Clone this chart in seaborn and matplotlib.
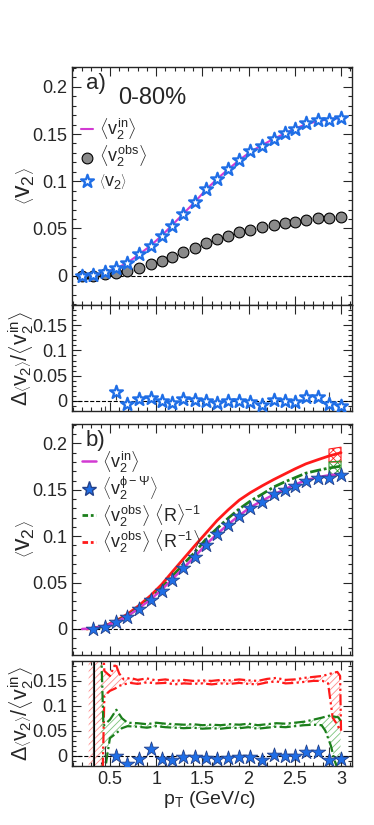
import numpy as np
import pandas as pd
import seaborn as sns
import matplotlib.pyplot as plt
from matplotlib.ticker import MultipleLocator, FuncFormatter
from matplotlib.lines import Line2D

# pT bin centres
pt = [0.2, 0.32, 0.45, 0.57, 0.69, 0.81, 0.94, 1.06, 1.17, 1.29, 1.42, 1.54,
      1.66, 1.78, 1.9, 2.02, 2.15, 2.27, 2.39, 2.5, 2.62, 2.75, 2.87, 3.0]

# panel a)
v2_in = [0.0, 0.0008, 0.0033, 0.0077, 0.0138, 0.0222, 0.0318, 0.0424, 0.0532, 0.0652, 0.0782, 0.0912,
         0.1025, 0.1128, 0.1225, 0.1312, 0.1385, 0.1448, 0.1505, 0.1556, 0.1603, 0.1637, 0.1657, 0.1672]
v2_obs = [0.0, 0.0, 0.0014, 0.0032, 0.0053, 0.0085, 0.0123, 0.0159, 0.0201, 0.0247, 0.029, 0.0342,
          0.0385, 0.0423, 0.0459, 0.0483, 0.0511, 0.0536, 0.0554, 0.0571, 0.0589, 0.0607, 0.0614, 0.0624]
v2_a = [0.0, 0.0007, 0.0035, 0.0078, 0.014, 0.0226, 0.0314, 0.042, 0.0529, 0.0653, 0.0783, 0.0917,
        0.1023, 0.1129, 0.1224, 0.1319, 0.1376, 0.1446, 0.1506, 0.1552, 0.1612, 0.1647, 0.1647, 0.1672]

# ratio a) (from pt = 0.45)
ratio_a = [-0.04, 0.0167, -0.0067, 0.004, 0.0067, 0.0007, -0.0047, 0.0033, 0.0027, 0.0007, -0.004,
           0.0, 0.0007, -0.002, -0.0087, 0.002, 0.0007, -0.0027, 0.0087, 0.0087, -0.0053, -0.01]
ratio_a_err = [0.029, 0.015, 0.003, 0.002, 0.002, 0.002, 0.002, 0.002, 0.002, 0.002, 0.002,
               0.002, 0.002, 0.002, 0.003, 0.003, 0.003, 0.003, 0.004, 0.005, 0.022, 0.012]

# panel b) (from pt = 0.32)
v2_b = [0.0, 0.0025, 0.0079, 0.0132, 0.0214, 0.031, 0.041, 0.053, 0.066, 0.0775, 0.09, 0.102,
        0.112, 0.122, 0.130, 0.137, 0.145, 0.150, 0.154, 0.160, 0.1625, 0.163, 0.166]
pt_red = [0.25] + pt[1:]
v2_R_inv = [0.0, 0.001, 0.0035, 0.009, 0.016, 0.025, 0.036, 0.048, 0.061, 0.075, 0.09, 0.1035,
            0.117, 0.1285, 0.139, 0.147, 0.1545, 0.161, 0.167, 0.1725, 0.178, 0.1825, 0.1865, 0.19]
v2_R_mean = [0.0003, 0.003, 0.0085, 0.0142, 0.0228, 0.0332, 0.0442, 0.0562, 0.0695, 0.0828, 0.097, 0.1085,
             0.1195, 0.1295, 0.138, 0.1455, 0.153, 0.1585, 0.163, 0.168, 0.171, 0.1735, 0.1755]
box_x = [2.87, 3.0]
red_box_lo = [0.180, 0.180]
red_box_hi = [0.194, 0.196]
green_box_lo = [0.165, 0.166]
green_box_hi = [0.180, 0.181]

# ratio b) (from pt = 0.32)
ratio_b = [-0.1, -0.04, 0.0, -0.0176, -0.006, 0.014, -0.006, -0.0095, -0.003, -0.003, -0.004, -0.006,
           -0.004, -0.003, -0.003, -0.0095, 0.002, 0.0, -0.001, 0.0074, 0.0068, -0.0095, -0.0074]
ratio_b_err = [0.4, 0.06, 0.003, 0.003, 0.003, 0.003, 0.003, 0.003, 0.003, 0.003, 0.003, 0.003,
               0.003, 0.003, 0.003, 0.003, 0.003, 0.003, 0.003, 0.003, 0.003, 0.027, 0.005]
rb_x = [0.27, 0.42, 0.44, 0.5, 0.56, 0.6, 0.65, 0.72, 0.8, 0.9, 1.0, 1.1, 1.2, 1.3, 1.4, 1.5, 1.6, 1.7,
        1.8, 1.9, 2.0, 2.1, 2.2, 2.3, 2.4, 2.5, 2.6, 2.7, 2.8, 2.86, 2.91, 2.96, 2.99, 3.0]
rb_hi = [0.25, 0.25, 0.17, 0.16, 0.185, 0.165, 0.153, 0.156, 0.152, 0.155, 0.151, 0.153, 0.150, 0.152,
         0.150, 0.151, 0.150, 0.152, 0.151, 0.153, 0.151, 0.150, 0.154, 0.156, 0.152, 0.153, 0.156,
         0.158, 0.160, 0.163, 0.166, 0.168, 0.160, 0.05]
rb_lo = [-0.05, -0.05, 0.12, 0.13, 0.135, 0.14, 0.143, 0.146, 0.144, 0.147, 0.145, 0.146, 0.143, 0.145,
         0.144, 0.145, 0.143, 0.145, 0.144, 0.146, 0.144, 0.143, 0.147, 0.149, 0.145, 0.146, 0.148,
         0.150, 0.150, 0.145, 0.076, 0.062, 0.05, 0.05]
gb_x = [0.40, 0.43, 0.5, 0.57, 0.63, 0.69, 0.8, 0.9, 1.0, 1.1, 1.2, 1.3, 1.4, 1.5, 1.6, 1.7, 1.8, 1.9,
        2.0, 2.1, 2.2, 2.3, 2.4, 2.5, 2.6, 2.7, 2.79, 2.83, 2.89, 2.93, 2.97, 2.995]
gb_hi = [0.25, 0.06, 0.072, 0.092, 0.075, 0.066, 0.065, 0.063, 0.066, 0.064, 0.063, 0.062, 0.063,
         0.061, 0.062, 0.061, 0.063, 0.062, 0.064, 0.061, 0.063, 0.065, 0.064, 0.066, 0.068, 0.072,
         0.076, 0.078, 0.081, 0.078, 0.077, 0.07]
gb_lo = [-0.05, -0.05, 0.035, 0.045, 0.055, 0.059, 0.058, 0.056, 0.059, 0.057, 0.056, 0.055, 0.056,
         0.054, 0.055, 0.054, 0.056, 0.055, 0.057, 0.054, 0.056, 0.058, 0.057, 0.059, 0.061, 0.062,
         0.061, 0.05, 0.02, -0.01, -0.03, -0.03]

sns.set_style('ticks')
plt.rcParams['font.family'] = ['Liberation Sans', 'DejaVu Sans']
plt.rcParams['mathtext.fontset'] = 'custom'
plt.rcParams['mathtext.rm'] = 'Liberation Sans'
plt.rcParams['mathtext.it'] = 'Liberation Sans'
plt.rcParams['hatch.linewidth'] = 0.6

MAG = '#d23ad2'
BLUE = '#1f6ee6'
GREEN = '#1b7f1b'
RED = '#ff1a1a'

fig = plt.figure(figsize=(3.74, 8.25), dpi=100)
L, W = 0.1925, 0.749
ax_a = fig.add_axes([L, 0.6303, W, 0.2885])
ax_ra = fig.add_axes([L, 0.5018, W, 0.1285])
ax_b = fig.add_axes([L, 0.2061, W, 0.2800])
ax_rb = fig.add_axes([L, 0.0715, W, 0.1273])

fmt = FuncFormatter(lambda v, p: '%g' % round(v, 3))
for ax in (ax_a, ax_ra, ax_b, ax_rb):
    ax.axhline(0, ls='--', color='k', lw=0.8, zorder=1)
    ax.xaxis.set_major_locator(MultipleLocator(0.5))
    ax.xaxis.set_minor_locator(MultipleLocator(0.1))
    ax.yaxis.set_major_locator(MultipleLocator(0.05))
    ax.yaxis.set_minor_locator(MultipleLocator(0.01))
    ax.yaxis.set_major_formatter(fmt)
    ax.xaxis.set_major_formatter(fmt)
    ax.tick_params(which='both', direction='in', top=True, right=True, labelsize=13, width=0.8)
    ax.tick_params(which='major', length=6.5)
    ax.tick_params(which='minor', length=3.2)
    for s in ax.spines.values():
        s.set_linewidth(1.0)
    if ax is not ax_rb:
        ax.tick_params(labelbottom=False)

V_IN = r'$\left\langle v_2^{in}\right\rangle$'
V_OBS = r'$\left\langle v_2^{obs}\right\rangle$'
V_2 = r'$\left\langle v_2\right\rangle$'
RATIO = r'$\Delta\left\langle v_2\right\rangle/\left\langle v_2^{in}\right\rangle$'

# ---- panel a
sns.lineplot(x=pt, y=v2_in, ax=ax_a, color=MAG, lw=1.5, label=V_IN, zorder=3)
sns.scatterplot(x=pt, y=v2_obs, ax=ax_a, color='#8a8a8a', edgecolor='k', linewidth=0.8, s=60,
                label=V_OBS, zorder=4)
sns.scatterplot(x=pt, y=v2_a, ax=ax_a, marker='*', color='white', edgecolor=BLUE, linewidth=1.6, s=95,
                label=V_2, zorder=5)
ax_a.legend(loc='upper left', bbox_to_anchor=(0.005, 0.82), frameon=False, fontsize=13,
            handlelength=0.7, handletextpad=0.3, labelspacing=0.12, borderaxespad=0)
ax_a.text(0.05, 0.975, 'a)', transform=ax_a.transAxes, va='top', fontsize=16)
ax_a.text(0.165, 0.915, '0-80%', transform=ax_a.transAxes, va='top', fontsize=17)
ax_a.set_ylabel(V_2, fontsize=18)
ax_a.yaxis.set_label_coords(-0.125, 0.5)

# ---- ratio a
xa = pt[2:]
ax_ra.errorbar(xa, ratio_a, yerr=ratio_a_err, fmt='none', ecolor='#444444', elinewidth=0.8, zorder=2)
sns.scatterplot(x=xa, y=ratio_a, ax=ax_ra, marker='*', color='white', edgecolor=BLUE, linewidth=1.6,
                s=95, zorder=5)
ax_ra.set_ylabel(RATIO, fontsize=15.5)
ax_ra.yaxis.set_label_coords(-0.13, 0.5)

# ---- panel b
sns.lineplot(x=pt, y=v2_in, ax=ax_b, color=MAG, lw=1.8, zorder=3)
sns.lineplot(x=pt_red, y=v2_R_inv, ax=ax_b, color=RED, lw=2.0, zorder=2)
sns.lineplot(x=pt[1:], y=v2_R_mean, ax=ax_b, color=GREEN, lw=2.0, linestyle=(0, (4, 1, 1, 1)), zorder=2)
ax_b.fill_between(box_x, red_box_lo, red_box_hi, facecolor='none', edgecolor=RED, hatch='xxxx', lw=0.8)
ax_b.fill_between(box_x, green_box_lo, green_box_hi, facecolor='none', edgecolor='#2a9a2a', hatch='xxxx', lw=0.8)
sns.scatterplot(x=pt[1:], y=v2_b, ax=ax_b, marker='*', color=BLUE, edgecolor='#23418a', linewidth=0.6,
                s=120, zorder=5)
handles = [Line2D([], [], color=MAG, lw=1.8),
           Line2D([], [], marker='*', ls='none', color=BLUE, mec='#23418a', ms=11),
           Line2D([], [], color=GREEN, lw=2, ls=(0, (2, 1, 1, 1))),
           Line2D([], [], color=RED, lw=2, ls=(0, (2, 1, 1, 1, 1, 1)))]
labels = [V_IN, r'$\left\langle v_2^{\phi-\Psi}\right\rangle$',
          r'$\left\langle v_2^{obs}\right\rangle\ \langle R\rangle^{-1}$',
          r'$\left\langle v_2^{obs}\right\rangle\ \langle R^{-1}\rangle$']
ax_b.legend(handles, labels, loc='upper left', bbox_to_anchor=(0.01, 0.92), frameon=False, fontsize=13,
            handlelength=0.8, handletextpad=0.3, labelspacing=0.0, borderaxespad=0)
ax_b.text(0.05, 0.975, 'b)', transform=ax_b.transAxes, va='top', fontsize=16)
ax_b.set_ylabel(V_2, fontsize=18)
ax_b.yaxis.set_label_coords(-0.125, 0.5)

# ---- ratio b
ax_rb.fill_between(rb_x, rb_lo, rb_hi, facecolor='none', edgecolor='#ff8c8c', hatch='/////', lw=0)
ax_rb.fill_between(gb_x, gb_lo, gb_hi, facecolor='none', edgecolor='#7cc47c', hatch='/////', lw=0)
for lo, hi, xx, c, st in ((rb_lo, rb_hi, rb_x, RED, (0, (5, 1.5, 1, 1.5, 1, 1.5))),
                          (gb_lo, gb_hi, gb_x, GREEN, (0, (5, 1.5, 1, 1.5)))):
    sns.lineplot(x=xx, y=hi, ax=ax_rb, color=c, lw=1.6, linestyle=st, sort=False, estimator=None)
    sns.lineplot(x=xx, y=lo, ax=ax_rb, color=c, lw=1.6, linestyle=st, sort=False, estimator=None)
ax_rb.axvline(0.33, color='k', lw=0.8)
xb = pt[1:]
ax_rb.errorbar(xb, ratio_b, yerr=ratio_b_err, fmt='none', ecolor='#333333', elinewidth=0.8, zorder=2)
sns.scatterplot(x=xb, y=ratio_b, ax=ax_rb, marker='*', color=BLUE, edgecolor='#23418a', linewidth=0.6,
                s=120, zorder=5)
ax_rb.set_ylabel(RATIO, fontsize=15.5)
ax_rb.yaxis.set_label_coords(-0.13, 0.5)
ax_rb.set_xlabel(r'p$_{T}$ (GeV/c)', fontsize=14)
ax_rb.xaxis.set_label_coords(0.49, -0.22)

ax_a.set_ylim(-0.031, 0.221)
ax_b.set_ylim(-0.028, 0.221)
ax_ra.set_ylim(-0.02, 0.19)
ax_rb.set_ylim(-0.021, 0.19)
for ax in (ax_a, ax_ra, ax_b, ax_rb):
    ax.set_xlim(0.09, 3.12)

fig.savefig('out.png', dpi=100)
